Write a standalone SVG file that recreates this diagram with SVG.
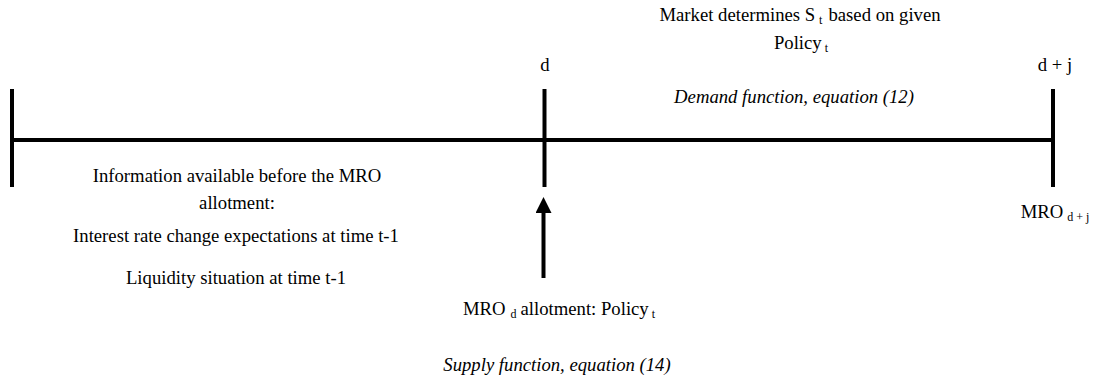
<svg xmlns="http://www.w3.org/2000/svg" width="1097" height="378" viewBox="0 0 1097 378">
<style>
text{font-family:"Liberation Serif","Times New Roman",serif;font-size:18.7px;fill:#000;text-anchor:middle}
.i{font-style:italic}
.s{font-size:12px}
line{stroke:#000;stroke-width:4}
</style>
<defs>
<marker id="ah" markerWidth="4" markerHeight="4" refX="0" refY="2" orient="auto" markerUnits="strokeWidth" viewBox="0 0 4 4"><path d="M0,0 L4,2 L0,4 z" fill="#000"/></marker>
</defs>
<rect width="1097" height="378" fill="#fff"/>
<g id="connectors">
<line x1="12" y1="140" x2="1055" y2="140"/>
<line x1="12" y1="89" x2="12" y2="187"/>
<line x1="544.5" y1="89" x2="544.5" y2="187"/>
<line x1="1053" y1="89" x2="1053" y2="187"/>
<line x1="543.5" y1="278" x2="543.5" y2="213" marker-end="url(#ah)"/>
</g>
<g id="market">
<text x="800" y="21">Market determines S<tspan class="s" dx="4" dy="3">t</tspan><tspan dx="6" dy="-3">based on given</tspan></text>
<text x="801" y="49">Policy<tspan class="s" dx="3" dy="3">t</tspan></text>
</g>
<g id="d"><text x="545" y="71">d</text></g>
<g id="dj"><text x="1055" y="71">d + j</text></g>
<g id="demand"><text class="i" x="794" y="103">Demand function, equation (12)</text></g>
<g id="info">
<text x="237" y="182">Information available before the MRO</text>
<text x="237" y="209">allotment:</text>
<text x="236" y="242">Interest rate change expectations at time t-1</text>
<text x="236" y="284">Liquidity situation at time t-1</text>
</g>
<g id="mrod"><text x="559" y="315">MRO<tspan class="s" dx="5" dy="3">d</tspan><tspan dx="4" dy="-3">allotment: Policy</tspan><tspan class="s" dx="3" dy="3">t</tspan></text></g>
<g id="supply"><text class="i" x="557" y="371">Supply function, equation (14)</text></g>
<g id="mrodj"><text x="1055" y="218">MRO<tspan class="s" dx="4" dy="3">d + j</tspan></text></g>
</svg>
